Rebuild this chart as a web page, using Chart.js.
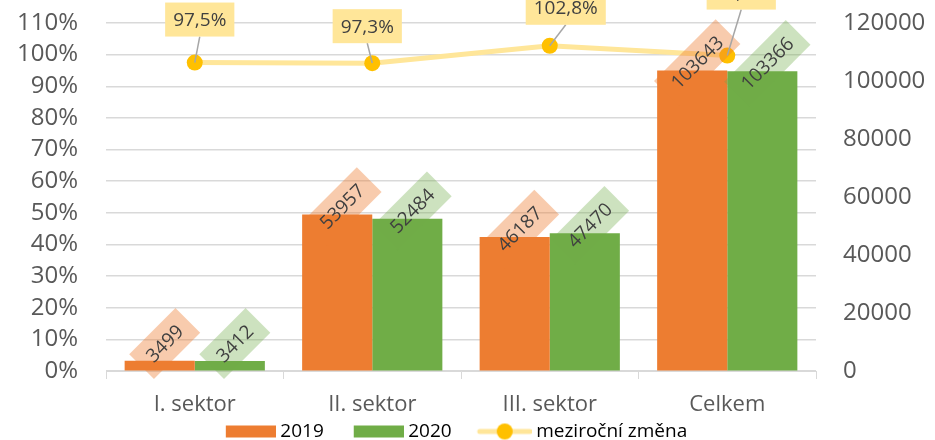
<!DOCTYPE html>
<html>
<head>
<meta charset="utf-8">
<script src="https://cdn.jsdelivr.net/npm/chart.js@4/dist/chart.umd.min.js"></script>
<style>
  html, body { margin: 0; padding: 0; background: #fff; }
  #wrap { width: 935px; height: 440px; }
</style>
</head>
<body>
<div id="wrap"><canvas id="chart"></canvas></div>
<script>
const categories = ['I. sektor', 'II. sektor', 'III. sektor', 'Celkem'];
const values2019 = [3499, 53957, 46187, 103643];
const values2020 = [3412, 52484, 47470, 103366];
const yearChange = [0.975, 0.973, 1.028, 0.997];
const seriesNames = ['2019', '2020', 'meziroční změna'];

const ORANGE = '#ED7D31', GREEN = '#70AD47', LINE = '#FFE699', DOT = '#FFC000';
const FONT = '"Open Sans"';

Chart.defaults.font.family = FONT;
Chart.defaults.color = '#595959';

// legend swatches drawn onto small canvases (centered, overflow 5px each side)
const BOXW = 75;
function swatch(kind, color) {
    const c = document.createElement('canvas');
    c.width = BOXW + 10; c.height = 18;
    const g = c.getContext('2d');
    if (kind === 'rect') {
        g.fillStyle = color;
        g.fillRect(c.width - 50, 3, 50, 12);
    } else {
        g.strokeStyle = LINE; g.lineWidth = 5; g.lineCap = 'round';
        g.beginPath(); g.moveTo(c.width - 52, 9); g.lineTo(c.width - 2, 9); g.stroke();
        g.fillStyle = DOT;
        g.beginPath(); g.arc(c.width - 27, 9, 8, 0, Math.PI * 2); g.fill();
    }
    return c;
}

const pct = v => (v * 100).toFixed(1).replace('.', ',') + '%';

const labelPlugin = {
    id: 'valueLabels',
    afterLayout(chart, args, opts) {
        // legend swatches carry blank space on their left, re-centre the row
        chart.legend.left -= opts.legendShift;
    },
    afterDatasetsDraw(chart, args, opts) {
        const ctx = chart.ctx;
        ctx.save();
        ctx.font = '19px ' + FONT;
        ctx.textAlign = 'center';
        ctx.textBaseline = 'middle';
        // rotated labels on bars
        [0, 1].forEach(di => {
            const ds = chart.data.datasets[di];
            chart.getDatasetMeta(di).data.forEach((el, i) => {
                const txt = String(ds.data[i]);
                const cx = el.x + 5;
                const cy = Math.min(el.y - 8, el.base - 27);
                const w = ctx.measureText(txt).width + 22, h = 35;
                ctx.save();
                ctx.translate(cx, cy);
                ctx.rotate(-Math.PI / 4);
                ctx.fillStyle = opts.barBg[di];
                ctx.fillRect(-w / 2, -h / 2, w, h);
                ctx.fillStyle = '#404040';
                ctx.fillText(txt, 0, 1);
                ctx.restore();
            });
        });
        // callout labels on the line
        const ds = chart.data.datasets[2];
        chart.getDatasetMeta(2).data.forEach((el, i) => {
            const txt = pct(ds.data[i]);
            const [dx, dy] = opts.lineOffsets[i];
            const bx = el.x + dx, by = el.y + dy;
            const w = ctx.measureText(txt).width + 16, h = 34;
            ctx.strokeStyle = '#A6A6A6';
            ctx.lineWidth = 1.5;
            ctx.beginPath();
            ctx.moveTo(bx, by + h / 2);
            ctx.lineTo(el.x, el.y);
            ctx.stroke();
            ctx.fillStyle = LINE;
            ctx.fillRect(bx - w / 2, by - h / 2, w, h);
            ctx.fillStyle = '#404040';
            ctx.fillText(txt, bx, by + 1);
        });
        ctx.restore();
    }
};

// vertical axes: keep tick padding horizontal only
const noVPad = s => { s.paddingTop = 0; s.paddingBottom = 0; };

new Chart(document.getElementById('chart'), {
    type: 'bar',
    data: {
        labels: categories,
        datasets: [
            {
                label: seriesNames[0],
                data: values2019,
                backgroundColor: ORANGE,
                yAxisID: 'yR',
                order: 1,
                barPercentage: 1,
                categoryPercentage: 0.79
            },
            {
                label: seriesNames[1],
                data: values2020,
                backgroundColor: GREEN,
                yAxisID: 'yR',
                order: 1,
                barPercentage: 1,
                categoryPercentage: 0.79
            },
            {
                type: 'line',
                label: seriesNames[2],
                data: yearChange,
                yAxisID: 'yL',
                order: 0,
                borderColor: LINE,
                borderWidth: 5,
                pointRadius: 8,
                pointBackgroundColor: DOT,
                pointBorderWidth: 0,
                tension: 0
            }
        ]
    },
    options: {
        maintainAspectRatio: false,
        animation: false,
        layout: { padding: { top: 23, left: 0, right: 0, bottom: -11 } },
        scales: {
            x: {
                grid: { drawOnChartArea: false, drawTicks: true, tickLength: 8, color: '#D9D9D9' },
                border: { display: true, color: '#D9D9D9' },
                ticks: { font: { size: 22 }, padding: 13, color: '#595959' },
                afterFit: s => { s.height = 51; }
            },
            yL: {
                position: 'left',
                min: 0, max: 1.1,
                grid: { color: '#D9D9D9', lineWidth: 1.5, drawTicks: false },
                border: { display: false },
                ticks: {
                    stepSize: 0.1,
                    autoSkip: false,
                    padding: 28,
                    font: { size: 24 },
                    callback: v => Math.round(v * 100) + '%'
                },
                afterFit: s => { s.width = 106; noVPad(s); }
            },
            yR: {
                position: 'right',
                min: 0, max: 120000,
                grid: { drawOnChartArea: false, drawTicks: false },
                border: { display: false },
                ticks: {
                    stepSize: 20000,
                    autoSkip: false,
                    padding: 27,
                    font: { size: 24 },
                    callback: v => String(v)
                },
                afterFit: s => { s.width = 119; noVPad(s); }
            }
        },
        plugins: {
            tooltip: { enabled: false },
            legend: {
                position: 'bottom',
                labels: {
                    usePointStyle: true,
                    pointStyleWidth: BOXW,
                    padding: 0,
                    font: { size: 19 },
                    color: '#595959',
                    generateLabels: chart => [
                        { text: seriesNames[0], pointStyle: swatch('rect', ORANGE), datasetIndex: 0, fillStyle: ORANGE, strokeStyle: ORANGE, lineWidth: 0, hidden: false },
                        { text: seriesNames[1], pointStyle: swatch('rect', GREEN), datasetIndex: 1, fillStyle: GREEN, strokeStyle: GREEN, lineWidth: 0, hidden: false },
                        { text: seriesNames[2], pointStyle: swatch('line'), datasetIndex: 2, fillStyle: DOT, strokeStyle: LINE, lineWidth: 0, hidden: false }
                    ]
                }
            },
            valueLabels: {
                legendShift: 52,
                barBg: ['rgba(237,125,49,0.4)', 'rgba(112,173,71,0.35)'],
                lineOffsets: [[5, -43], [-5, -37], [16, -38], [14, -63]]
            }
        }
    },
    plugins: [labelPlugin]
});
</script>
</body>
</html>
